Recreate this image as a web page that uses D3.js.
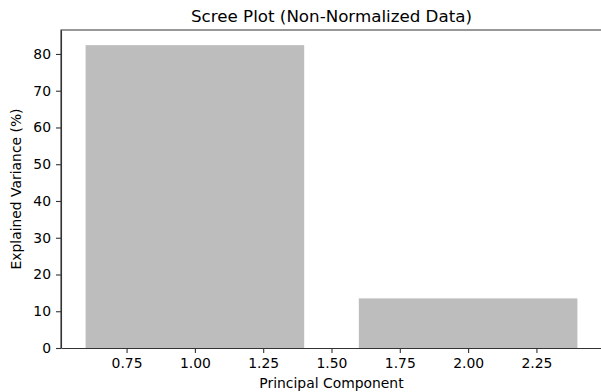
<!DOCTYPE html>
<html>
<head>
<meta charset="utf-8">
<script src="https://cdn.jsdelivr.net/npm/d3@7"></script>
<style>
  body { margin: 0; background: #fff; }
  svg { display: block; font-family: 'DejaVu Sans', sans-serif; }
  .tick text { font-family: 'DejaVu Sans', sans-serif; font-size: 13.9px; fill: #000; }
</style>
</head>
<body>
<div id="chart"></div>
<script>
const components = [1, 2];
const variance = [82.4, 13.5];
const xTicks = [0.75, 1.0, 1.25, 1.5, 1.75, 2.0, 2.25];
const yTicks = [0, 10, 20, 30, 40, 50, 60, 70, 80];

const w = 601;
const h = 392;
const barWidth = 0.8;

const svg = d3.select('#chart')
  .append('svg')
  .attr('width', w)
  .attr('height', h);

const xScale = d3.scaleLinear()
  .domain([0.51, 2.49])
  .range([61, 602]);

const yScale = d3.scaleLinear()
  .domain([0, d3.max(variance) * 1.05])
  .range([348, 30]);

// bars
svg
  .selectAll('.bar')
  .data(components)
  .enter()
  .append('rect')
  .attr('class', 'bar')
  .attr('x', d => xScale(d - barWidth / 2))
  .attr('width', d => xScale(d + barWidth / 2) - xScale(d - barWidth / 2))
  .attr('y', (d, i) => yScale(variance[i]))
  .attr('height', (d, i) => yScale(0) - yScale(variance[i]))
  .attr('fill', '#bdbdbd');

// frame (top and left spines; right side is cut off)
svg
  .append('path')
  .attr('d', `M${xScale.range()[0]},${yScale(0)}V${yScale.range()[1]}H${xScale.range()[1]}`)
  .attr('fill', 'none')
  .attr('stroke', '#333')
  .attr('stroke-width', 1.1);

const xAxis = d3.axisBottom(xScale)
  .tickValues(xTicks)
  .tickFormat(d3.format('.2f'))
  .tickSizeInner(5)
  .tickSizeOuter(0)
  .tickPadding(5);

svg
  .append('g')
  .attr('transform', `translate(0, ${yScale(0)})`)
  .call(xAxis)
  .call(g => g.select('.domain').attr('stroke', '#333').attr('stroke-width', 1.1))
  .call(g => g.selectAll('.tick line').attr('stroke', '#333').attr('stroke-width', 1.1));

const yAxis = d3.axisLeft(yScale)
  .tickValues(yTicks)
  .tickSizeInner(5)
  .tickSizeOuter(0)
  .tickPadding(5);

svg
  .append('g')
  .attr('transform', `translate(${xScale.range()[0]}, 0)`)
  .call(yAxis)
  .call(g => g.select('.domain').attr('stroke', '#333').attr('stroke-width', 1.1))
  .call(g => g.selectAll('.tick line').attr('stroke', '#333').attr('stroke-width', 1.1));

svg
  .append('text')
  .attr('x', 331.5)
  .attr('y', 22)
  .attr('text-anchor', 'middle')
  .style('font-size', '16.7px')
  .text('Scree Plot (Non-Normalized Data)');

svg
  .append('text')
  .attr('x', 331.5)
  .attr('y', 388)
  .attr('text-anchor', 'middle')
  .style('font-size', '13.9px')
  .text('Principal Component');

svg
  .append('text')
  .attr('transform', 'rotate(-90)')
  .attr('x', -189)
  .attr('y', 21)
  .attr('text-anchor', 'middle')
  .style('font-size', '13.9px')
  .text('Explained Variance (%)');
</script>
</body>
</html>
